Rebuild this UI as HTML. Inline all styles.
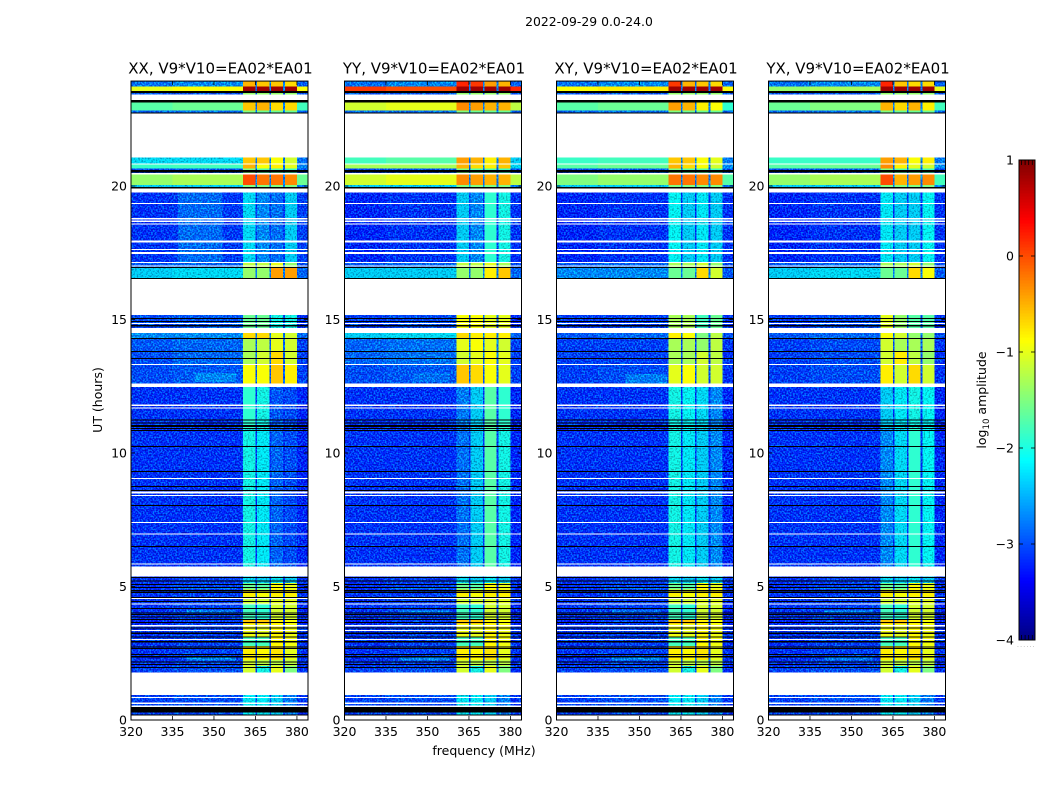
<!DOCTYPE html>
<html>
<head>
<meta charset="utf-8">
<title>2022-09-29 0.0-24.0</title>
<style>
html,body{margin:0;padding:0;background:#fff;}
svg{display:block;}
text{font-family:"DejaVu Sans","Liberation Sans",sans-serif;fill:#000;}
</style>
</head>
<body>
<svg id="figure" xmlns="http://www.w3.org/2000/svg" width="1050" height="800" viewBox="0 0 1050 800">
<defs>
<filter id="speckle-low" filterUnits="userSpaceOnUse" x="0" y="0" width="1050" height="800" color-interpolation-filters="sRGB">
<feTurbulence type="fractalNoise" baseFrequency="0.62" numOctaves="1" seed="7" result="n"/>
<feColorMatrix in="n" type="matrix" values="0 0 0 0 0  4.5 0 0 0 -2.05  3 0 0 0 -0.45  0 0 0 0 0.42" result="c"/>
<feComposite in="c" in2="SourceAlpha" operator="in"/>
</filter>
<filter id="speckle-mid" filterUnits="userSpaceOnUse" x="0" y="0" width="1050" height="800" color-interpolation-filters="sRGB">
<feTurbulence type="fractalNoise" baseFrequency="0.62" numOctaves="1" seed="11" result="n"/>
<feColorMatrix in="n" type="matrix" values="0 0 0 0 0  3.5 0 0 0 -0.9  3 0 0 0 -0.6  0 0 0 0 0.34" result="c"/>
<feComposite in="c" in2="SourceAlpha" operator="in"/>
</filter>
</defs>
<rect x="0" y="0" width="1050" height="800" fill="#fff"/>
<text x="589" y="26" font-size="12.4" text-anchor="middle">2022-09-29 0.0-24.0</text>
<text x="484" y="755" font-size="12.5" text-anchor="middle">frequency (MHz)</text>
<text x="0" y="0" font-size="12.5" text-anchor="middle" transform="translate(102,400) rotate(-90)">UT (hours)</text>
<text x="0" y="0" font-size="12.5" text-anchor="middle" transform="translate(986,400) rotate(-90)">log<tspan font-size="8.6" dy="2.8">10</tspan><tspan dy="-2.8"> amplitude</tspan></text>
<text x="1017" y="647" font-size="6" letter-spacing="1.2" style="fill:#999">......</text>
<g id="panels"></g>
<g id="colorbar"></g>
</svg>
<script>
// Axis domain and ticks
const freqTicks = [320, 335, 350, 365, 380];
const timeTicks = [0, 5, 10, 15, 20];
const freqLimits = [320, 384];
const timeLimits = [0, 23.93];
const colorLimits = [-4, 1];
const colorTicks = [1, 0, -1, -2, -3, -4];
const colorMinorLow = [-3.97, -3.93, -3.9, -3.87];
const panelNames = ["XX", "YY", "XY", "YX"];
const panelTitle = ", V9*V10=EA02*EA01";

// Frequency cell edges (MHz): off-band left, off-band mid, four sub-bands, right
const freqEdges = [320, 335, 360.5, 365, 365.5, 370, 370.6, 375, 375.6, 380, 384];

// Time segments, [upper hour, lower hour]
const timeSegments = [
[23.93,23.72],[23.72,23.49],[23.49,23.13],[23.13,22.82],[22.82,22.71],
[21.07,20.81],[20.81,20.65],[20.65,20.44],[20.44,20.04],[20.04,19.75],
[19.75,17.16],[17.16,16.94],[16.94,16.53],[15.17,14.49],[14.49,14.31],
[14.31,13.80],[13.80,13.30],[13.30,12.47],[12.47,10.90],[10.90,5.37],
[5.37,5.13],[5.13,4.88],[4.88,4.63],[4.63,4.36],[4.36,3.75],[3.75,3.60],
[3.60,3.12],[3.12,2.77],[2.77,2.25],[2.25,2.02],[2.02,1.77],[0.94,0.16]
];

// log10 amplitude per segment: offL, offM, band1, band2, band3, band4, right
const levelsXX = [
[-2.7,-2.5,-0.5,-0.6,-0.6,-0.7,-2.9],[-1.0,-0.9,0.85,0.85,0.85,0.85,-0.9],[-2.9,-2.9,-1.4,-1.4,-1.4,-1.4,-2.9],
[-1.7,-1.6,-0.6,-0.5,-0.7,-0.7,-1.8],[-2.8,-2.7,-1.5,-1.6,-1.6,-1.6,-2.8],[-2.3,-2.3,-0.6,-0.6,-0.9,-1.1,-2.7],
[-1.85,-1.8,-0.5,-0.9,-0.8,-1.0,-2.5],[-3.0,-2.9,-1.5,-1.7,-1.7,-1.8,-3.0],[-1.4,-1.3,0.0,-0.2,-0.2,-0.3,-1.6],
[-2.4,-2.4,-1.5,-1.5,-1.5,-1.5,-2.6],[-3.2,-3.15,-2.3,-2.5,-2.7,-2.4,-3.1],[-2.9,-2.8,-1.2,-1.2,-1.0,-1.4,-3.0],
[-2.4,-2.3,-1.4,-1.4,-0.4,-0.4,-2.8],[-3.0,-2.9,-1.6,-1.6,-2.0,-2.0,-3.2],[-2.5,-2.5,-0.7,-0.7,-1.0,-1.1,-2.8],
[-2.9,-2.8,-1.3,-1.2,-1.0,-1.1,-3.1],[-3.0,-2.8,-1.3,-1.1,-0.7,-1.1,-3.1],[-3.0,-2.9,-0.9,-0.9,-0.6,-0.8,-3.1],
[-3.2,-3.2,-1.9,-2.0,-2.9,-3.0,-3.3],[-3.2,-3.2,-2.0,-2.2,-2.8,-3.0,-3.3]
];
const levelsYY = [
[-2.7,-2.5,0.2,0.1,-0.4,-0.5,-2.8],[0.1,0.0,0.85,0.85,0.85,0.85,0.2],[-2.9,-2.9,-1.4,-1.4,-1.4,-1.4,-2.9],
[-1.1,-1.0,-0.3,-0.4,-0.5,-0.5,-1.2],[-2.7,-2.7,-1.5,-1.6,-1.6,-1.6,-2.8],[-1.8,-1.7,-0.4,-0.5,-0.8,-0.5,-2.4],
[-1.3,-1.3,-0.5,-0.7,-0.8,-0.6,-2.3],[-3.0,-2.9,-1.5,-1.7,-1.7,-1.8,-3.0],[-1.1,-1.0,-0.3,-0.4,-0.5,-0.5,-1.2],
[-2.4,-2.4,-1.5,-1.5,-1.5,-1.5,-2.6],[-3.3,-3.2,-2.4,-2.5,-1.9,-2.0,-3.2],[-2.9,-2.8,-1.2,-1.2,-1.0,-1.3,-3.0],
[-2.4,-2.4,-1.4,-1.4,-0.8,-0.6,-2.8],[-3.1,-3.0,-0.9,-0.9,-1.0,-1.0,-3.3],[-2.4,-2.3,-0.7,-0.8,-0.8,-0.8,-2.8],
[-2.8,-2.7,-1.0,-0.9,-1.0,-1.1,-3.1],[-2.8,-2.7,-1.1,-1.0,-0.9,-1.0,-3.1],[-3.0,-2.9,-0.6,-0.7,-0.9,-1.0,-3.1],
[-3.2,-3.2,-2.6,-2.4,-1.7,-1.9,-3.3],[-3.2,-3.2,-2.7,-2.4,-1.7,-2.0,-3.3]
];
const levelsXY = [
[-2.7,-2.5,0.1,-0.5,-0.6,-0.7,-2.8],[-0.9,-0.8,0.85,0.85,0.85,0.85,-0.9],[-2.9,-2.9,-1.4,-1.4,-1.4,-1.4,-2.9],
[-1.7,-1.6,-0.4,-0.5,-0.8,-0.9,-1.9],[-2.8,-2.7,-1.5,-1.6,-1.6,-1.6,-2.8],[-1.85,-1.8,-0.6,-0.6,-0.9,-1.0,-2.6],
[-1.7,-1.6,-0.5,-0.7,-0.9,-1.1,-2.5],[-3.0,-2.9,-1.5,-1.7,-1.7,-1.8,-3.0],[-1.5,-1.4,-0.2,-0.2,-0.3,-0.3,-1.7],
[-2.4,-2.4,-1.5,-1.5,-1.5,-1.5,-2.6],[-3.3,-3.2,-2.1,-2.4,-2.2,-2.4,-3.2],[-2.9,-2.8,-1.3,-1.3,-1.1,-1.4,-3.0],
[-2.5,-2.5,-1.6,-1.6,-0.7,-1.1,-2.9],[-3.1,-3.1,-1.3,-1.3,-1.8,-1.6,-3.2],[-2.9,-2.8,-0.8,-0.9,-1.5,-1.2,-3.0],
[-3.1,-3.1,-1.3,-1.3,-1.4,-1.2,-3.2],[-3.1,-3.1,-1.3,-1.3,-1.1,-1.2,-3.2],[-3.1,-3.0,-1.0,-0.9,-1.1,-1.1,-3.2],
[-3.2,-3.2,-2.0,-2.1,-2.3,-2.5,-3.3],[-3.2,-3.2,-2.0,-2.2,-2.4,-2.5,-3.3]
];
const levelsYX = [
[-2.7,-2.5,0.2,-0.6,-0.7,-0.7,-2.8],[-1.4,-1.3,0.85,0.85,0.85,0.85,-1.0],[-2.9,-2.9,-1.4,-1.4,-1.4,-1.4,-2.9],
[-1.6,-1.5,-0.5,-0.7,-0.5,-0.8,-1.8],[-2.8,-2.7,-1.5,-1.6,-1.6,-1.6,-2.8],[-1.85,-1.85,-0.4,-0.5,-0.9,-0.8,-2.6],
[-1.7,-1.6,-0.3,-0.8,-1.0,-1.1,-2.5],[-3.0,-2.9,-1.5,-1.7,-1.7,-1.8,-3.0],[-1.4,-1.3,0.0,-0.5,-0.4,-0.3,-1.8],
[-2.4,-2.4,-1.5,-1.5,-1.5,-1.5,-2.6],[-3.3,-3.2,-2.2,-2.4,-2.4,-2.1,-3.2],[-2.9,-2.8,-1.3,-1.3,-1.1,-1.4,-3.0],
[-2.4,-2.3,-1.6,-1.6,-0.7,-0.9,-2.9],[-3.1,-3.0,-1.0,-1.4,-1.7,-1.7,-3.2],[-2.9,-2.8,-0.9,-1.1,-1.4,-1.4,-3.0],
[-3.1,-3.0,-1.1,-1.3,-1.3,-1.3,-3.2],[-3.1,-3.0,-1.1,-0.8,-1.2,-1.4,-3.2],[-3.1,-3.0,-0.8,-1.1,-0.7,-1.1,-3.2],
[-3.2,-3.2,-2.4,-2.2,-2.0,-2.1,-3.3],[-3.2,-3.2,-2.5,-2.3,-1.9,-2.1,-3.3]
];
// Early-hours segments, shared across the four correlations
const levelsEarly = [
[-3.2,-3.1,-2.3,-2.4,-2.2,-2.4,-3.2],[-3.2,-3.1,-1.6,-1.7,-0.9,-1.0,-3.2],[-3.2,-3.1,-0.8,-0.9,-0.8,-0.8,-3.2],
[-3.2,-3.1,-1.1,-1.1,-1.0,-1.0,-3.2],[-3.2,-3.1,-1.8,-1.9,-1.1,-1.1,-3.3],[-3.3,-3.1,-0.6,-0.6,-0.8,-0.9,-3.3],
[-3.2,-3.1,-0.95,-1.0,-0.85,-0.95,-3.2],[-3.2,-3.1,-1.8,-1.8,-0.85,-0.95,-3.2],[-3.2,-3.1,-0.8,-0.85,-0.75,-1.0,-3.2],
[-3.2,-3.1,-1.1,-1.2,-1.2,-1.2,-3.2],[-3.1,-3.0,-1.1,-2.0,-1.0,-1.5,-3.2],[-3.1,-3.0,-2.2,-2.2,-2.4,-2.6,-3.2]
];
const panelLevels = [levelsXX, levelsYY, levelsXY, levelsYX];

// Localised features: panel index, upper hour, lower hour, low MHz, high MHz, level
const featurePatches = [
[0,19.75,17.16,337,353,-2.75],
[0,13.0,12.65,343,358,-2.5],[2,12.95,12.6,345,360,-2.6],[1,13.0,12.65,345,358,-2.7],
[0,4.99,4.93,337,358,-2.2],[1,4.99,4.93,337,358,-2.2],[2,4.99,4.93,337,358,-2.3],[3,4.99,4.93,337,358,-2.2],
[0,4.12,3.99,340,358,-2.6],[1,4.12,3.99,340,358,-2.6],[2,4.12,3.99,340,358,-2.7],[3,4.12,3.99,340,358,-2.6],
[0,2.35,2.22,340,358,-2.5],[1,2.35,2.22,340,358,-2.5],[2,2.35,2.22,340,358,-2.5],[3,2.35,2.22,340,358,-2.6]
];

// Flagged time ranges drawn white: [upper hour, lower hour]
const flaggedRanges = [
[23.42,23.22],[22.71,21.07],[20.85,20.81],[20.48,20.44],[19.91,19.75],[19.36,19.33],[18.80,18.75],[18.70,18.66],
[18.60,18.55],[17.95,17.88],[17.64,17.60],[17.53,17.45],[17.16,17.12],[17.03,16.98],[16.53,15.17],[14.87,14.83],
[14.69,14.49],[13.33,13.30],[12.60,12.47],[11.82,11.76],[11.70,11.66],[9.06,9.03],[8.55,8.49],[8.43,8.39],
[7.42,7.38],[6.99,6.95],[5.87,5.83],[5.74,5.37],[4.57,4.53],[4.36,4.33],[3.55,3.51],[3.37,3.33],[3.03,3.00],
[1.77,0.94],[0.86,0.82],[0.65,0.60],[0.54,0.48],[0.16,0.00]
];
// Zero-amplitude time ranges drawn black: [upper hour, lower hour]
const zeroRanges = [
[23.55,23.49],[23.22,23.13],[22.75,22.71],[20.60,20.51],[19.97,19.91],[16.96,16.92],[16.55,16.53],[15.06,15.02],
[14.94,14.91],[14.79,14.73],[14.31,14.27],[13.82,13.78],[13.56,13.52],[11.26,11.22],[11.15,11.11],[11.05,10.98],
[10.93,10.89],[10.86,10.82],[10.27,10.24],[9.33,9.30],[8.76,8.73],[8.61,8.58],[8.05,8.02],[6.52,6.49],
[5.36,5.32],[5.23,5.19],[5.09,5.05],[4.98,4.94],[4.86,4.82],[4.79,4.75],[4.60,4.56],[4.46,4.42],[4.19,4.15],
[4.03,3.99],[3.97,3.93],[3.88,3.84],[3.78,3.74],[3.67,3.63],[3.47,3.43],[3.27,3.23],[3.13,3.09],[2.95,2.91],
[2.76,2.72],[2.70,2.66],[2.47,2.43],[2.39,2.35],[2.20,2.16],[2.10,2.06],[1.99,1.95],[0.48,0.28],[0.20,0.16]
];

const NS = "http://www.w3.org/2000/svg";
const panelLeft = [131, 344.5, 556.5, 768.5];
const panelWidth = 177;
const axisBottom = 720;
const pxPerHour = 26.7;
const barLeft = 1019, barRight = 1035, barTop = 160, barBottom = 640;

function xScale(i, f) { return panelLeft[i] + (f - freqLimits[0]) / (freqLimits[1] - freqLimits[0]) * panelWidth; }
function yScale(t) { return axisBottom - t * pxPerHour; }
function barScale(v) { return barBottom - (v - colorLimits[0]) / (colorLimits[1] - colorLimits[0]) * (barBottom - barTop); }
function jet(v) {
  const s = Math.max(0, Math.min(1, (v - colorLimits[0]) / (colorLimits[1] - colorLimits[0])));
  const ch = c => Math.round(255 * Math.max(0, Math.min(1, 1.5 - Math.abs(4 * s - c))));
  return "rgb(" + ch(3) + "," + ch(2) + "," + ch(1) + ")";
}
function make(parent, tag, attrs, text) {
  const e = document.createElementNS(NS, tag);
  for (const k in attrs) e.setAttribute(k, attrs[k]);
  if (text !== undefined) e.textContent = text;
  parent.appendChild(e);
  return e;
}

const panelsRoot = document.getElementById("panels");
panelNames.forEach((name, i) => {
  const lower = name.toLowerCase();
  const g = make(panelsRoot, "g", {});
  
  

  const heat = make(g, "g", { "shape-rendering": "crispEdges" });
  
  
  const speckLow = make(g, "g", { filter: "url(#speckle-low)", "shape-rendering": "crispEdges" });
  
  
  const speckMid = make(g, "g", { filter: "url(#speckle-mid)", "shape-rendering": "crispEdges" });
  
  

  function addCell(lev, x0, x1, y0, y1) {
    const cell = make(heat, "rect", { x: x0, y: y0, width: x1 - x0, height: y1 - y0, fill: jet(lev) });
    
    
    if (lev < -2.45) {
      const n = make(speckLow, "rect", { x: x0, y: y0, width: x1 - x0, height: y1 - y0 });
      
      
    } else if (lev < -1.9) {
      const n = make(speckMid, "rect", { x: x0, y: y0, width: x1 - x0, height: y1 - y0 });
      
      
    }
  }

  const rows = panelLevels[i].concat(levelsEarly);
  timeSegments.forEach((seg, r) => {
    const row = rows[r];
    const gapLevel = Math.min(row[1], -2.6);
    const cellLevels = [row[0], row[1], row[2], gapLevel, row[3], gapLevel, row[4], gapLevel, row[5], row[6]];
    cellLevels.forEach((lev, c) => {
      addCell(lev, xScale(i, freqEdges[c]), xScale(i, freqEdges[c + 1]), yScale(seg[0]), yScale(seg[1]));
    });
  });
  featurePatches.filter(p => p[0] === i).forEach(p => {
    addCell(p[5], xScale(i, p[3]), xScale(i, p[4]), yScale(p[1]), yScale(p[2]));
  });

  const masks = make(g, "g", { "shape-rendering": "crispEdges" });
  
  
  flaggedRanges.forEach(rg => {
    const m = make(masks, "rect", { x: panelLeft[i], y: yScale(rg[0]), width: panelWidth, height: yScale(rg[1]) - yScale(rg[0]), fill: "#fff" });
    
    
  });
  zeroRanges.forEach(rg => {
    const m = make(masks, "rect", { x: panelLeft[i], y: yScale(rg[0]), width: panelWidth, height: Math.max(1, yScale(rg[1]) - yScale(rg[0])), fill: "#000" });
    
    
  });

  const frame = make(g, "rect", { x: panelLeft[i], y: yScale(timeLimits[1]), width: panelWidth, height: axisBottom - yScale(timeLimits[1]), fill: "none", stroke: "#000", "stroke-width": 1 });
  
  

  freqTicks.forEach(f => {
    const x = xScale(i, f);
    const t1 = make(g, "line", { x1: x, x2: x, y1: axisBottom, y2: axisBottom - 4, stroke: "#000", "stroke-width": 0.8 });
    
    
    const t2 = make(g, "line", { x1: x, x2: x, y1: yScale(timeLimits[1]), y2: yScale(timeLimits[1]) + 4, stroke: "#000", "stroke-width": 0.8 });
    
    
    const lab = make(g, "text", { x: x, y: 736, "font-size": 12.5, "text-anchor": "middle" }, String(f));
    
    
  });
  timeTicks.forEach(t => {
    const y = yScale(t);
    const t1 = make(g, "line", { x1: panelLeft[i], x2: panelLeft[i] + 4, y1: y, y2: y, stroke: "#000", "stroke-width": 0.8 });
    
    
    const t2 = make(g, "line", { x1: panelLeft[i] + panelWidth, x2: panelLeft[i] + panelWidth - 4, y1: y, y2: y, stroke: "#000", "stroke-width": 0.8 });
    
    
    const lab = make(g, "text", { x: panelLeft[i] - 4, y: y + 4.5, "font-size": 12.5, "text-anchor": "end" }, String(t));
    
    
  });
  const title = make(g, "text", { x: panelLeft[i] + panelWidth / 2 + 1, y: 73.5, "font-size": 15, "text-anchor": "middle" }, name + panelTitle);
  
  
});

const bar = document.getElementById("colorbar");


const barRamp = make(bar, "g", { "shape-rendering": "crispEdges" });


for (let k = 0; k < 160; k++) {
  const v0 = colorLimits[0] + (colorLimits[1] - colorLimits[0]) * k / 160;
  const v1 = colorLimits[0] + (colorLimits[1] - colorLimits[0]) * (k + 1) / 160;
  const step = make(barRamp, "rect", { x: barLeft, y: barScale(v1), width: barRight - barLeft, height: barScale(v0) - barScale(v1) + 0.5, fill: jet((v0 + v1) / 2) });
  
  
}
const barFrame = make(bar, "rect", { x: barLeft, y: barTop, width: barRight - barLeft, height: barBottom - barTop, fill: "none", stroke: "#000", "stroke-width": 1 });


colorTicks.forEach(v => {
  const y = barScale(v);
  const a = make(bar, "line", { x1: barLeft, x2: barLeft + 4, y1: y, y2: y, stroke: "#000", "stroke-width": 0.8 });
  
  
  const b = make(bar, "line", { x1: barRight, x2: barRight - 4, y1: y, y2: y, stroke: "#000", "stroke-width": 0.8 });
  
  
  const lab = make(bar, "text", { x: barLeft - 5, y: y + 4.5, "font-size": 12.5, "text-anchor": "end" }, String(v).replace("-", "\u2212"));
  
  
});
colorMinorLow.forEach((v, k) => {
  const x = barLeft + 2.5 + k * 3.6;
  const top = make(bar, "line", { x1: x, x2: x, y1: barTop, y2: barTop + 5, stroke: "#000", "stroke-width": 0.8 });
  
  
  const bot = make(bar, "line", { x1: x, x2: x, y1: barBottom, y2: barBottom - 5, stroke: "#000", "stroke-width": 0.8 });
  
  
});
</script>
</body>
</html>
